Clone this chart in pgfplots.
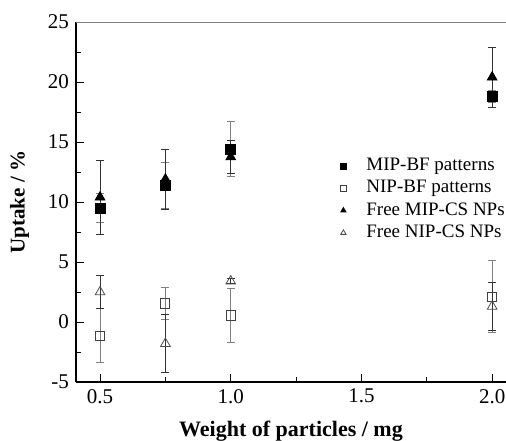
\documentclass[border=0pt]{standalone}
\usepackage{pgfplots}
\pgfplotsset{compat=1.18}
\usepackage{fontspec}
\setmainfont{Liberation Serif}

% x, y, error
\pgfplotstableread{
x y e
0.5 9.5 1.2
0.75 11.4 1.9
1.0 14.4 2.3
2.0 18.8 0.5
}\mipbf
\pgfplotstableread{
x y e
0.5 -1.15 2.25
0.75 1.55 1.35
1.0 0.55 2.25
2.0 2.1 3.0
}\nipbf
\pgfplotstableread{
x y e
0.5 10.4 3.1
0.75 11.9 2.5
1.0 13.75 1.4
2.0 20.4 2.5
}\mipcs
\pgfplotstableread{
x y e
0.5 2.5 1.4
0.75 -1.8 2.4
1.0 3.4 0.2
2.0 1.3 2.0
}\nipcs

\begin{document}
\begin{tikzpicture}
\begin{axis}[
  scale only axis,
  width=215pt, height=180pt,
  xmin=0.408, xmax=2.053,
  ymin=-5, ymax=25,
  axis lines*=left,
  axis line style={black, line width=0.6pt},
  tick align=inside,
  major tick length=4pt, minor tick length=2.5pt,
  tick style={black, line width=0.5pt},
  xtick={0.5,1.0,1.5,2.0},
  minor x tick num=1,
  ytick={-5,0,5,10,15,20,25},
  minor y tick num=1,
  xticklabel style={/pgf/number format/.cd, fixed, fixed zerofill, precision=1},
  /pgf/number format/assume math mode=true,
  tick label style={font=\fontsize{10.5}{12}\selectfont},
  xlabel={\textbf{Weight of particles / mg}},
  ylabel={\textbf{Uptake / \%}},
  xlabel style={font=\fontsize{11}{13}\selectfont, yshift=-2pt},
  ylabel style={font=\fontsize{10.5}{12}\selectfont, yshift=2.5pt},
  legend style={at={(0.60,0.645)}, anchor=north west, draw=none, fill=none,
    font=\fontsize{9.5}{11}\selectfont, row sep=-0.6pt,
    /tikz/every odd column/.append style={column sep=8pt}},
  legend cell align=left,
  legend image code/.code={\draw[#1] plot coordinates {(0.15cm,0cm)};},
  legend image post style={mark size=1.5pt},
  error bars/y dir=both,
  error bars/y explicit,
  error bars/error mark options={rotate=90, mark size=2pt, line width=0.4pt},
]
\addplot[only marks, mark=square*, mark size=2.5pt, black,
  error bars/error bar style={gray, line width=0.4pt}]
  table[x=x, y=y, y error=e] {\mipbf};
\addlegendentry{MIP-BF patterns}
\addplot[only marks, mark=square, mark size=2.3pt, black!75, mark options={line width=0.5pt, fill=white},
  error bars/error bar style={gray, line width=0.4pt}]
  table[x=x, y=y, y error=e] {\nipbf};
\addlegendentry{NIP-BF patterns}
\addplot[only marks, mark=triangle*, mark size=2.8pt, black,
  error bars/error bar style={black!80, line width=0.4pt}]
  table[x=x, y=y, y error=e] {\mipcs};
\addlegendentry{Free MIP-CS NPs}
\addplot[only marks, mark=triangle, mark size=2.8pt, black!70, mark options={line width=0.4pt, fill=white},
  error bars/error bar style={black!80, line width=0.4pt}]
  table[x=x, y=y, y error=e] {\nipcs};
\addlegendentry{Free NIP-CS NPs}
\draw[gray, line width=0.8pt] (rel axis cs:0,1) -- (rel axis cs:1,1);
\coordinate (bl) at (rel axis cs:0,0);
\coordinate (tr) at (rel axis cs:1,1);
\end{axis}
\pgfresetboundingbox
\path[use as bounding box] ([shift={(-38pt,-29pt)}]bl) rectangle ([shift={(0pt,11pt)}]tr);
\end{tikzpicture}
\end{document}
